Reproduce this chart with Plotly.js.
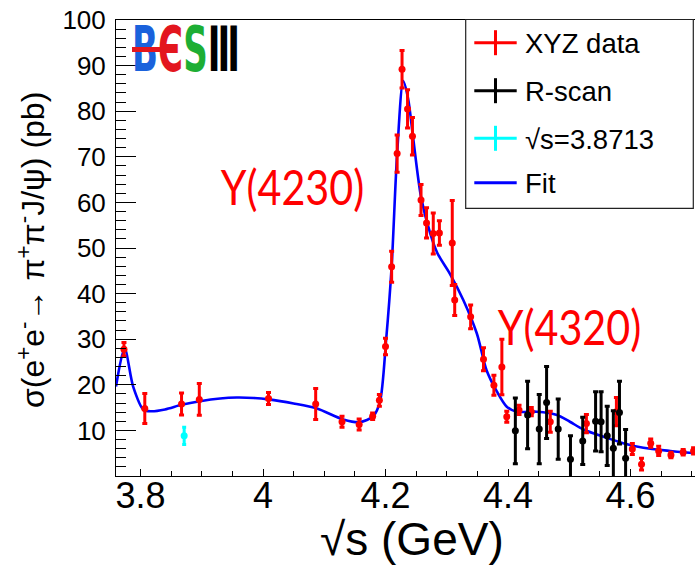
<!DOCTYPE html>
<html><head><meta charset="utf-8">
<script src="https://cdn.plot.ly/plotly-3.0.1.min.js"></script>
<style>
html,body{margin:0;padding:0;overflow:hidden;background:#fff;width:695px;height:566px}
#chart{width:720px;height:566px}
</style>
</head><body><div id="chart"></div>
<script>
// ---- data ----
const xyzX   = [3.773, 3.807, 3.867, 3.896, 4.009, 4.086, 4.129, 4.157, 4.179, 4.190, 4.200, 4.210, 4.219, 4.227, 4.236, 4.244, 4.258, 4.267, 4.278, 4.288, 4.309, 4.313, 4.339, 4.360, 4.377, 4.390, 4.398, 4.418, 4.438, 4.469, 4.528, 4.577, 4.603, 4.618, 4.633, 4.646, 4.666, 4.686, 4.703];
const xyzY   = [27.8, 14.8, 15.8, 16.8, 17.0, 15.8, 11.9, 11.3, 13.1, 16.6, 28.4, 45.9, 70.7, 89.2, 80.5, 74.5, 60.5, 55.5, 53.2, 53.3, 51.1, 38.6, 34.9, 25.6, 19.9, 23.9, 13.0, 14.5, 14.1, 11.9, 11.5, 14.1, 5.9, 2.6, 7.2, 5.5, 4.6, 5.2, 5.5];
const xyzErr = [1.5, 3.3, 2.4, 3.5, 1.3, 3.4, 1.2, 1.2, 0.7, 1.3, 1.8, 3.4, 4.1, 4.1, 4.2, 4.1, 3.4, 3.3, 4.5, 2.7, 9.3, 3.4, 2.6, 2.5, 2.2, 6.1, 1.2, 1.0, 0.9, 2.3, 2.0, 3.1, 1.2, 1.3, 0.9, 1.0, 0.6, 0.6, 0.7];

const rscanX   = [4.412, 4.432, 4.451, 4.463, 4.482, 4.502, 4.522, 4.543, 4.552, 4.562, 4.572, 4.582, 4.592];
const rscanY   = [9.9, 13.4, 10.3, 16.1, 10.3, 3.7, 7.7, 12.0, 11.9, 8.8, 6.1, 13.9, 3.9];
const rscanErr = [7.2, 7.4, 7.6, 7.9, 6.6, 5.1, 5.2, 6.5, 6.6, 6.5, 8.2, 6.9, 6.3];

const singleX   = [3.8713];
const singleY   = [8.8];
const singleErr = [1.9];

const fitX = [3.760, 3.774, 3.788, 3.805, 3.818, 3.840, 3.867, 3.897, 3.930, 3.957, 3.985, 4.009, 4.050, 4.088, 4.131, 4.158, 4.180, 4.191, 4.201, 4.210, 4.219, 4.229, 4.237, 4.245, 4.258, 4.273, 4.285, 4.305, 4.327, 4.349, 4.365, 4.382, 4.398, 4.414, 4.447, 4.480, 4.501, 4.523, 4.556, 4.588, 4.621, 4.665, 4.705, 4.746];
const fitY = [19.6, 28.0, 19.6, 14.5, 14.2, 14.6, 15.6, 16.4, 17.0, 17.2, 17.1, 16.8, 15.9, 14.8, 12.4, 11.8, 13.1, 16.3, 29.8, 45.9, 70.7, 86.6, 82.7, 74.3, 61.2, 53.2, 48.8, 44.4, 38.6, 31.3, 23.2, 18.5, 15.2, 14.1, 14.1, 13.4, 11.9, 10.2, 8.6, 7.2, 6.2, 5.5, 5.0, 4.7];

const xTickVals = [3.8, 4.0, 4.2, 4.4, 4.6];
const xTickText = ['3.8', '4', '4.2', '4.4', '4.6'];
const yTickVals = [10, 20, 30, 40, 50, 60, 70, 80, 90, 100];

const legendLabels = ['XYZ data', 'R-scan', '√s=3.8713', 'Fit'];
const legendColors = ['#ff0000', '#000000', '#00ffff', '#0000ff'];

// ---- geometry ----
const W = 720, H = 566, ML = 116, MR = 0, MT = 20, MB = 90;
const PW = W - ML - MR, PH = H - MT - MB;
const XMIN = 3.76, PXPERGEV = 612.5;
const XMAX = XMIN + PW / PXPERGEV;
const px = x => (x - ML) / PW;
const py = y => (MT + PH - y) / PH;

const traces = [
  {x: fitX, y: fitY, mode: 'lines', line: {color: '#0000ff', width: 2.6, shape: 'spline', smoothing: 0.8},
   hoverinfo: 'skip', showlegend: false},
  {x: singleX, y: singleY, mode: 'markers', marker: {color: '#00ffff', size: 7},
   error_y: {type: 'data', array: singleErr, color: '#00ffff', thickness: 3, width: 2}, showlegend: false},
  {x: xyzX, y: xyzY, mode: 'markers', marker: {color: '#ff0000', size: 7},
   error_y: {type: 'data', array: xyzErr, color: '#ff0000', thickness: 3, width: 2.5}, showlegend: false},
  {x: rscanX, y: rscanY, mode: 'markers', marker: {color: '#000000', size: 7},
   error_y: {type: 'data', array: rscanErr, color: '#000000', thickness: 3, width: 2.5}, showlegend: false}
];

// manual legend
const shapes = [];
const annotations = [];
const LX0 = 465.7, LX1 = 693.3, LY0 = 19.5, LY1 = 208.3;
shapes.push({type: 'rect', xref: 'paper', yref: 'paper', x0: px(LX0), x1: px(LX1), y0: py(LY1), y1: py(LY0),
  line: {color: '#222', width: 1.2}, fillcolor: '#ffffff', layer: 'above'});
const rowY = [42.7, 90.7, 138.3, 182.7];
const cx = 495.5;
legendLabels.forEach((lab, i) => {
  const c = legendColors[i];
  shapes.push({type: 'line', xref: 'paper', yref: 'paper', x0: px(474.3), x1: px(516.7), y0: py(rowY[i]), y1: py(rowY[i]),
    line: {color: c, width: 3}, layer: 'above'});
  if (i < 3) {
    shapes.push({type: 'line', xref: 'paper', yref: 'paper', x0: px(cx), x1: px(cx), y0: py(rowY[i] - 12.5), y1: py(rowY[i] + 12.5),
      line: {color: c, width: 3}, layer: 'above'});
  }
  annotations.push({xref: 'paper', yref: 'paper', x: px(523), y: py(rowY[i] + 1), xanchor: 'left', yanchor: 'middle',
    text: lab, showarrow: false, font: {family: 'Liberation Sans, Arial, sans-serif', size: 27.5, color: '#000'}});
});

// axis titles
annotations.push({xref: 'paper', yref: 'paper', x: px(412), y: py(539), xanchor: 'center', yanchor: 'middle',
  text: '√s (GeV)', showarrow: false, font: {family: 'Liberation Sans, Arial, sans-serif', size: 46, color: '#000'}});
annotations.push({xref: 'paper', yref: 'paper', x: px(31), y: py(250), xanchor: 'center', yanchor: 'middle', textangle: -90,
  text: 'σ(e<sup>+</sup>e<sup>-</sup>→ π<sup>+</sup>π<sup>-</sup>J/ψ) (pb)', showarrow: false,
  font: {family: 'Liberation Sans, Arial, sans-serif', size: 32, color: '#000'}});

// resonance labels
const idxY4230 = annotations.length;
annotations.push({xref: 'paper', yref: 'paper', x: px(292.5), y: py(186), xanchor: 'center', yanchor: 'middle',
  text: 'Y(4230)', showarrow: false, font: {family: 'Lato, Open Sans, sans-serif', size: 48, color: '#ff0000'}});
const idxY4320 = annotations.length;
annotations.push({xref: 'paper', yref: 'paper', x: px(569), y: py(326), xanchor: 'center', yanchor: 'middle',
  text: 'Y(4320)', showarrow: false, font: {family: 'Lato, Open Sans, sans-serif', size: 48, color: '#ff0000'}});

// BESIII logo
const idxLogo = annotations.length;
annotations.push({xref: 'paper', yref: 'paper', x: px(186), y: py(50), xanchor: 'center', yanchor: 'middle',
  text: "<span style='color:#1a62dc'>B</span><span style='color:#e3161e'>Є</span><span style='color:#1dae34'>S</span><span style='color:#000'>Ⅲ</span>",
  showarrow: false, font: {family: 'DejaVu Sans, Liberation Sans, sans-serif', size: 62, weight: 'bold', color: '#000'}});
annotations.push({xref: 'paper', yref: 'paper', x: px(132), y: py(50), xanchor: 'left', yanchor: 'middle',
  text: '&nbsp;', width: 44, height: 4.5, bgcolor: '#e3161e', borderpad: 0, borderwidth: 0, showarrow: false, font: {size: 2}});

const layout = {
  width: W, height: H,
  margin: {l: ML, r: MR, t: MT, b: MB, pad: 0},
  paper_bgcolor: '#fff', plot_bgcolor: '#fff',
  showlegend: false,
  font: {family: 'Liberation Sans, Arial, sans-serif', color: '#000'},
  xaxis: {range: [XMIN, XMAX], showgrid: false, zeroline: false, showline: true, linecolor: '#000', linewidth: 1, mirror: true,
    tickmode: 'array', tickvals: xTickVals, ticktext: xTickText, ticks: 'inside', ticklen: 7, tickwidth: 1, tickcolor: '#000',
    tickfont: {size: 36, family: 'Liberation Sans, Arial, sans-serif'}, ticklabelstandoff: -12,
    minor: {tickmode: 'linear', tick0: 3.8, dtick: 0.05, ticks: 'inside', ticklen: 5, tickwidth: 1, tickcolor: '#000'}},
  yaxis: {range: [0, 100], showgrid: false, zeroline: false, showline: true, linecolor: '#000', linewidth: 1, mirror: true,
    tickmode: 'array', tickvals: yTickVals, ticks: 'inside', ticklen: 20, tickwidth: 1, tickcolor: '#000',
    tickfont: {size: 26, family: 'Liberation Sans, Arial, sans-serif'}, ticklabelstandoff: 4,
    minor: {tickmode: 'linear', tick0: 0, dtick: 2, ticks: 'inside', ticklen: 10, tickwidth: 1, tickcolor: '#000'}},
  shapes: shapes,
  annotations: annotations
};

function squeeze(i, sx) {
  const g = document.querySelector('.annotation[data-index="' + i + '"] .annotation-text-g');
  if (!g) return;
  const bb = g.getBBox();
  const cxx = bb.x + bb.width / 2, cyy = bb.y + bb.height / 2;
  const t = g.getAttribute('transform') || '';
  g.setAttribute('transform', t + ' translate(' + cxx + ',' + cyy + ') scale(' + sx + ',1) translate(' + (-cxx) + ',' + (-cyy) + ')');
}

Plotly.newPlot('chart', traces, layout, {displayModeBar: false, staticPlot: true}).then(() => {
  squeeze(idxLogo, 0.55);
  squeeze(idxY4230, 0.86);
  squeeze(idxY4320, 0.86);
});
</script>
</body></html>
